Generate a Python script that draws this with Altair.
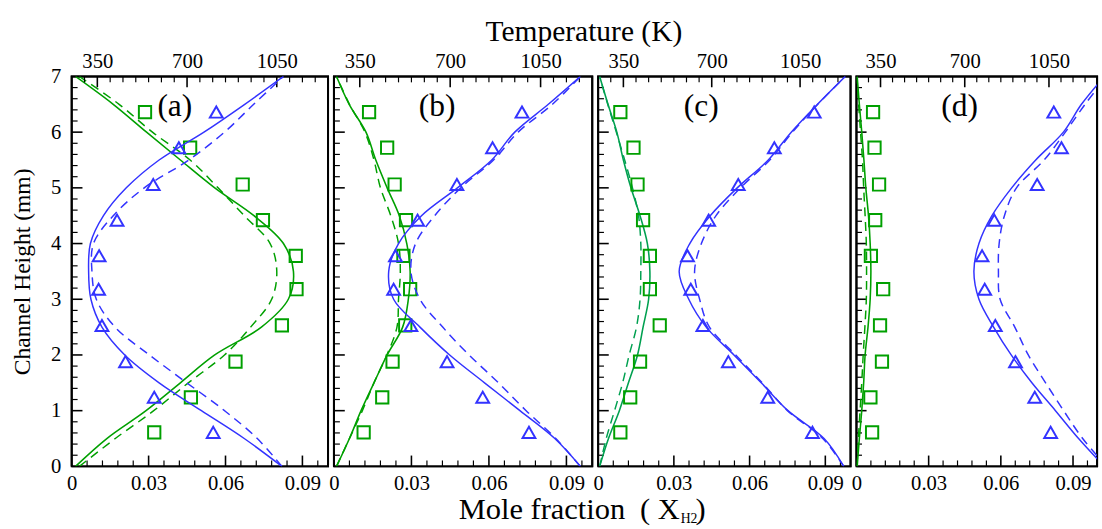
import altair as alt
import pandas as pd

FONT = "Liberation Serif"
GREEN = "#00a000"
GREEN_C = "#00a050"
BLUE = "#3333ff"

# channel height positions (mm)
Y_PROFILE = [0, 0.5, 1, 1.5, 2, 2.5, 3, 3.5, 4, 4.5, 5, 5.5, 6, 6.5, 7]
Y_MARKERS = [0.61, 1.24, 1.88, 2.53, 3.18, 3.78, 4.42, 5.06, 5.72, 6.36]

# panel (a)
A_XH2_SIM = [0.0015, 0.0137, 0.029, 0.0424, 0.0558, 0.074, 0.0845, 0.0865, 0.0826, 0.0711, 0.0558, 0.0424, 0.0292, 0.0162, 0.0015]
A_XH2_DASH = [0.003, 0.017, 0.032, 0.0455, 0.0596, 0.0698, 0.078, 0.080, 0.0774, 0.0673, 0.0571, 0.0462, 0.0315, 0.0185, 0.003]
A_T_SIM = [1070, 923, 756, 591, 457, 368, 325, 316, 323, 374, 463, 591, 766, 925, 1076]
A_T_DASH = [1070, 974, 846, 699, 553, 419, 346, 329, 335, 412, 533, 707, 846, 960, 1076]
A_XH2_EXP = [0.0322, 0.0465, 0.0639, 0.0820, 0.0877, 0.0874, 0.0746, 0.0667, 0.0462, 0.0286]
A_T_EXP = [802, 572, 460, 368, 355, 357, 427, 568, 668, 814]

# panel (b)
B_XH2_SIM = [0.001, 0.006, 0.0105, 0.0155, 0.0206, 0.0266, 0.0288, 0.0295, 0.0282, 0.0253, 0.0206, 0.0162, 0.0124, 0.0059, 0.001]
B_XH2_DASH = [0.001, 0.006, 0.011, 0.0155, 0.0205, 0.0244, 0.025, 0.0257, 0.025, 0.022, 0.018, 0.0155, 0.012, 0.006, 0.001]
B_T_SIM = [1204, 1105, 970, 833, 698, 583, 481, 462, 500, 589, 728, 861, 950, 1080, 1204]
B_T_DASH = [1204, 1109, 994, 887, 773, 671, 583, 548, 566, 640, 741, 868, 963, 1096, 1204]
B_XH2_EXP = [0.0115, 0.0187, 0.0227, 0.0276, 0.0295, 0.0269, 0.0279, 0.0235, 0.0206, 0.0136]
B_T_EXP = [1005, 826, 688, 548, 481, 488, 574, 726, 864, 978]

# panel (c)
C_XH2_SIM = [0.0006, 0.0041, 0.0084, 0.012, 0.0156, 0.0178, 0.02, 0.0205, 0.0195, 0.0166, 0.013, 0.010, 0.0074, 0.0039, 0.0006]
C_XH2_DASH = [0.0006, 0.0032, 0.0065, 0.0097, 0.0123, 0.0152, 0.0166, 0.0169, 0.0169, 0.016, 0.0136, 0.0105, 0.0072, 0.0038, 0.0006]
C_T_SIM = [1223, 1145, 1002, 896, 788, 678, 609, 571, 613, 694, 801, 924, 1015, 1119, 1229]
C_T_DASH = [1223, 1140, 1000, 900, 795, 691, 652, 632, 659, 717, 814, 930, 1020, 1120, 1229]
C_XH2_EXP = [0.0088, 0.0127, 0.0166, 0.0244, 0.0205, 0.0205, 0.0178, 0.0156, 0.014, 0.0088]
C_T_EXP = [1099, 922, 766, 665, 617, 604, 688, 805, 948, 1106]

# panel (d)
D_XH2_SIM = [0.0003, 0.0012, 0.0022, 0.003, 0.0036, 0.0048, 0.0057, 0.006, 0.0057, 0.005, 0.0039, 0.0031, 0.0022, 0.0012, 0.0003]
D_XH2_DASH = [0.0002, 0.0008, 0.0015, 0.0022, 0.0028, 0.0035, 0.0041, 0.0042, 0.0041, 0.0036, 0.003, 0.0025, 0.0017, 0.0009, 0.0002]
D_T_SIM = [1280, 1173, 1077, 979, 893, 820, 759, 738, 759, 813, 895, 995, 1110, 1185, 1280]
D_T_DASH = [1290, 1190, 1111, 1036, 964, 908, 847, 840, 843, 865, 915, 1030, 1118, 1200, 1290]
D_XH2_EXP = [0.0065, 0.0058, 0.0106, 0.0098, 0.0111, 0.006, 0.0078, 0.0094, 0.0075, 0.0069]
D_T_EXP = [1057, 991, 911, 827, 783, 772, 823, 1001, 1102, 1070]

# axis tick values
X_MAJOR = [0, 0.03, 0.06, 0.09]
X_TICK_MAJOR = [0.03, 0.06, 0.09]
X_MINOR = [0.006, 0.012, 0.018, 0.024, 0.036, 0.042, 0.048, 0.054, 0.066, 0.072, 0.078, 0.084, 0.096]
T_MAJOR = [350, 700, 1050]
T_MINOR = [300, 400, 450, 500, 550, 600, 650, 750, 800, 850, 900, 950, 1000, 1100, 1150, 1200]
Y_LABELS = [0, 1, 2, 3, 4, 5, 6, 7]
Y_MAJOR = [1, 2, 3, 4, 5, 6]
Y_MINOR = [0.2, 0.4, 0.6, 0.8, 1.2, 1.4, 1.6, 1.8, 2.2, 2.4, 2.6, 2.8, 3.2, 3.4, 3.6, 3.8,
           4.2, 4.4, 4.6, 4.8, 5.2, 5.4, 5.6, 5.8, 6.2, 6.4, 6.6, 6.8]

# frame corners (data units) and tick lengths in axis units (about 11 px major, 6 px minor)
FRAME_X = [0.0, 0.0, 0.1, 0.1, 0.0]
FRAME_Y = [0.0, 7.0, 7.0, 0.0, 0.0]
YT_MAJ, YT_MIN = 0.194, 0.106
XT_MAJ, XT_MIN = 0.0042, 0.0023

H = 397


def text_mark(txt, x, y, size, align="center"):
    return alt.Chart(pd.DataFrame({"t": [txt]})).mark_text(
        font=FONT, fontSize=size, align=align, baseline="alphabetic", color="black"
    ).encode(text="t:N", x=alt.value(x), y=alt.value(y))


def tick_frame(vals, start, length, along, prefix):
    """Long-form table: one 2-point segment per tick value."""
    ids, pos, off = [], [], []
    for i, v in enumerate(vals):
        ids += [prefix + str(i)] * 2
        pos += [v, v]
        off += [start, start + length]
    return pd.DataFrame({"tid": ids, along: pos, "off": off})


def make_panel(label, w, xs, xd, ts, td, xe, te, gcol, first=False, extra=None):
    prof = pd.DataFrame({"y": Y_PROFILE, "xs": xs, "xd": xd, "ts": ts, "td": td})
    exp = pd.DataFrame({"y": Y_MARKERS, "xe": xe, "te": te})
    xsc = alt.Scale(domain=[0, 0.1], nice=False, zero=False)
    tsc = alt.Scale(domain=[250, 1250], nice=False, zero=False)
    ysc = alt.Scale(domain=[0, 7], nice=False, zero=False)
    common = dict(ticks=False, grid=False, domain=False, labelFont=FONT, labelFontSize=21,
                  labelColor="black", labelFlush=False, labelOverlap=False, title="")
    xaxis = alt.Axis(orient="bottom", values=X_MAJOR,
                     labelExpr="datum.value == 0 ? '0' : format(datum.value, '.2f')",
                     labelPadding=7, **common)
    taxis = alt.Axis(orient="top", values=T_MAJOR, format="d", labelPadding=5, **common)
    if first:
        yaxis = alt.Axis(orient="left", values=Y_LABELS, format="d", ticks=False,
                         grid=False, domain=False, labelFont=FONT, labelFontSize=21,
                         labelColor="black", labelPadding=11, labelFlush=False,
                         title="Channel Height (mm)", titleFont=FONT, titleFontSize=24,
                         titleFontWeight="normal", titleColor="black", titlePadding=16)
    else:
        yaxis = None

    Y = lambda f: alt.Y(f, scale=ysc, axis=yaxis)
    XG = lambda f: alt.X(f, scale=xsc, axis=xaxis)
    XT = lambda f: alt.X(f, scale=tsc, axis=taxis)

    # ticks drawn as short 2-point line segments
    def bottom_ticks(vals, ln, sw, p):
        df = tick_frame(vals, 0.0, ln, "pos", p)
        return alt.Chart(df).mark_line(color="black", strokeWidth=sw).encode(
            x=XG("pos:Q"), y=Y("off:Q"), detail="tid:N", order="off:Q")

    def left_ticks(vals, ln, sw, p):
        df = tick_frame(vals, 0.0, ln, "pos", p)
        return alt.Chart(df).mark_line(color="black", strokeWidth=sw).encode(
            y=Y("pos:Q"), x=XG("off:Q"), detail="tid:N", order="off:Q")

    def top_ticks(vals, ln, sw, p):
        df = tick_frame(vals, 7.0, -ln, "pos", p)
        return alt.Chart(df).mark_line(color="black", strokeWidth=sw).encode(
            x=XT("pos:Q"), y=Y("off:Q"), detail="tid:N", order="off:Q")

    frame_df = pd.DataFrame({"k": list(range(len(FRAME_X))), "fx": FRAME_X, "fy": FRAME_Y})
    frame = alt.Chart(frame_df).mark_line(color="black", strokeWidth=2).encode(
        x=XG("fx:Q"), y=Y("fy:Q"), order="k:Q")

    base = alt.Chart(prof)
    g_solid = base.mark_line(color=gcol, strokeWidth=1.6, clip=True, interpolate="catmull-rom").encode(
        x=XG("xs:Q"), y=Y("y:Q"), order="y:Q")
    g_dash = base.mark_line(color=gcol, strokeWidth=1.5, strokeDash=[9, 6], clip=True,
                            interpolate="catmull-rom").encode(x=XG("xd:Q"), y=Y("y:Q"), order="y:Q")
    g_pts = alt.Chart(exp).mark_point(shape="square", size=156, filled=False, strokeWidth=2,
                                      color=GREEN, opacity=1).encode(x=XG("xe:Q"), y=Y("y:Q"))

    green = alt.layer(bottom_ticks(X_TICK_MAJOR, YT_MAJ, 1.6, "bm"),
                      bottom_ticks(X_MINOR, YT_MIN, 1.2, "bn"),
                      left_ticks(Y_MAJOR, XT_MAJ, 1.6, "lm"),
                      left_ticks(Y_MINOR, XT_MIN, 1.2, "ln"),
                      frame, g_solid, g_dash, g_pts)

    b_solid = base.mark_line(color=BLUE, strokeWidth=1.5, clip=True, interpolate="catmull-rom").encode(
        x=XT("ts:Q"), y=Y("y:Q"), order="y:Q")
    b_dash = base.mark_line(color=BLUE, strokeWidth=1.5, strokeDash=[9, 6], clip=True,
                            interpolate="catmull-rom").encode(x=XT("td:Q"), y=Y("y:Q"), order="y:Q")
    b_pts = alt.Chart(exp).mark_point(shape="triangle-up", size=170, filled=False, strokeWidth=2,
                                      color=BLUE, opacity=1).encode(x=XT("te:Q"), y=Y("y:Q"))

    blue = alt.layer(top_ticks(T_MAJOR, YT_MAJ, 1.6, "tm"), top_ticks(T_MINOR, YT_MIN, 1.2, "tn"),
                     b_solid, b_dash, b_pts)

    layers = [green, blue, text_mark(label, 105, 40, 32)]
    if extra:
        layers += extra
    return alt.layer(*layers).resolve_scale(x="independent").properties(width=w, height=H)


annotations = [
    text_mark("Temperature (K)", 254.5, -36, 30),
    text_mark("Mole fraction", 127, 450.7, 31, align="left"),
    text_mark("( X", 352, 450.7, 31, align="right"),
    text_mark("H2", 353, 455, 14, align="left"),
    text_mark(")", 368, 450.7, 31, align="left"),
]

pa = make_panel("(a)", 261, A_XH2_SIM, A_XH2_DASH, A_T_SIM, A_T_DASH, A_XH2_EXP, A_T_EXP, GREEN, first=True)
pb = make_panel("(b)", 263, B_XH2_SIM, B_XH2_DASH, B_T_SIM, B_T_DASH, B_XH2_EXP, B_T_EXP, GREEN, extra=annotations)
pc = make_panel("(c)", 257, C_XH2_SIM, C_XH2_DASH, C_T_SIM, C_T_DASH, C_XH2_EXP, C_T_EXP, GREEN_C)
pd_ = make_panel("(d)", 245, D_XH2_SIM, D_XH2_DASH, D_T_SIM, D_T_DASH, D_XH2_EXP, D_T_EXP, GREEN)

chart = alt.hconcat(pa, pb, pc, pd_, spacing=6, bounds="flush").properties(
    padding={"left": 10, "top": 12, "right": 0, "bottom": 0},
    background="white",
).configure_view(stroke="black", strokeWidth=2)

chart.save("out.html", embed_options={"renderer": "svg", "actions": False})
